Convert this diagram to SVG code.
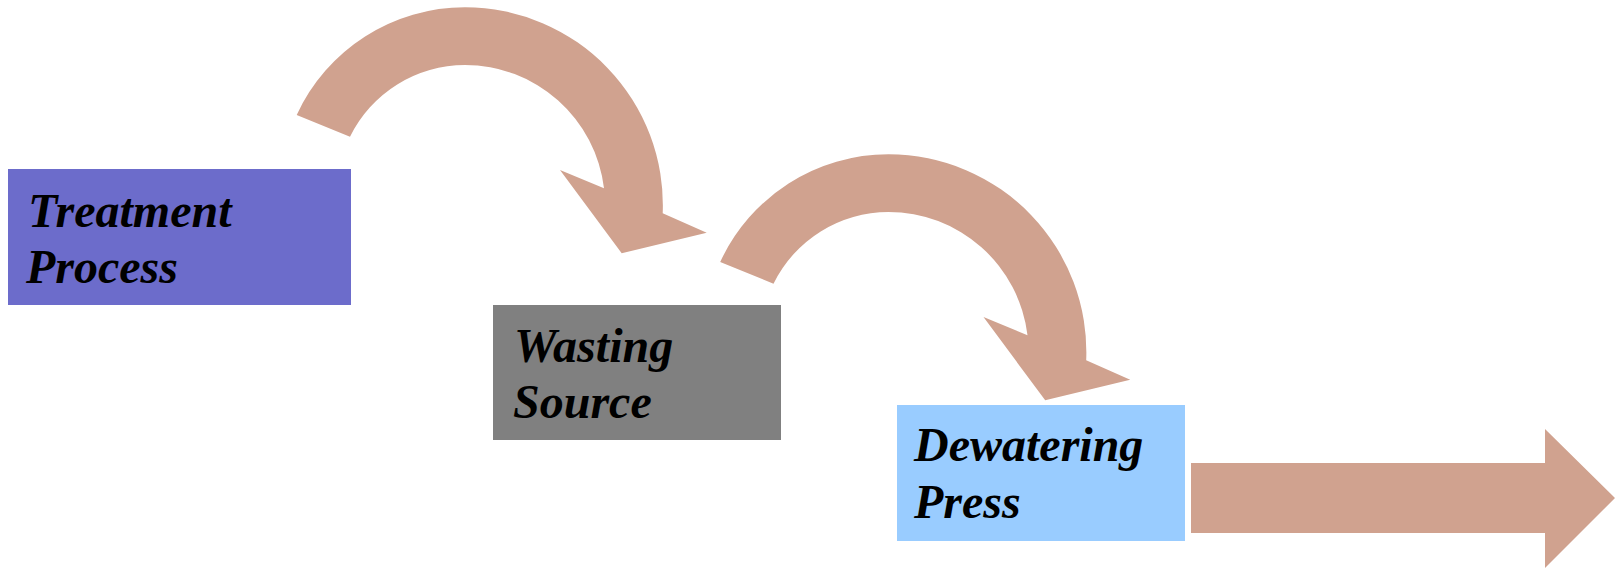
<svg xmlns="http://www.w3.org/2000/svg" xmlns:xlink="http://www.w3.org/1999/xlink" width="1617" height="569" viewBox="0 0 1617 569">
  <style>
    .label { font-family: "Liberation Serif", "Times New Roman", serif; font-size: 48px; font-weight: bold; font-style: italic; fill: #000000; }
    .flow { fill: #D0A28F; stroke: none; }
  </style>
  <defs>
    <!-- curved band arrow: two-radius arcs for each edge, triangular head at the right end -->
    <path id="curvedArrow" d="M296.7,115 A185.3,185.3 0 0 1 465,7.3 A197.9,197.9 0 0 1 662.7,213.3 L706.7,232.7 L621.7,253.3 L560,170 L604,188.3 A140,140 0 0 0 465,65 A128.1,128.1 0 0 0 350,136.7 Z"/>
  </defs>

  <rect width="1617" height="569" fill="#ffffff"/>

  <g id="treatment-process">
    <rect x="8" y="169" width="343" height="136" fill="#6C6CCB"/>
    <text class="label" x="28" y="227">Treatment</text>
    <text class="label" x="26" y="283">Process</text>
  </g>

  <g id="wasting-source">
    <rect x="493" y="305" width="288" height="135" fill="#808080"/>
    <text class="label" x="514" y="362">Wasting</text>
    <text class="label" x="513" y="418">Source</text>
  </g>

  <g id="dewatering-press">
    <rect x="897" y="405" width="288" height="136" fill="#99CCFF"/>
    <text class="label" x="914" y="461">Dewatering</text>
    <text class="label" x="914" y="518">Press</text>
  </g>

  <g id="connectors">
    <use xlink:href="#curvedArrow" href="#curvedArrow" class="flow"/>
    <use xlink:href="#curvedArrow" href="#curvedArrow" class="flow" transform="translate(423.5,147)"/>
    <polygon class="flow" points="1191,463 1545,463 1545,429 1615,498 1545,568 1545,533 1191,533"/>
  </g>
</svg>
